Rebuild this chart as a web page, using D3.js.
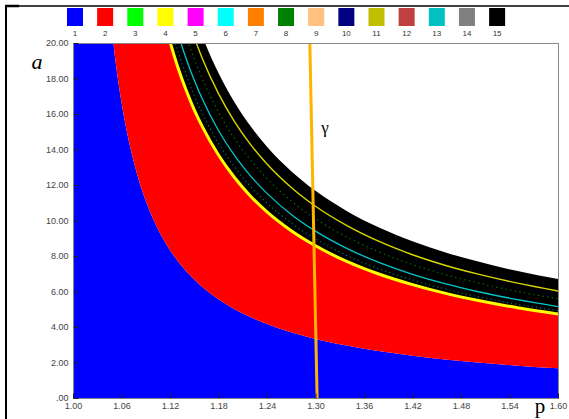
<!DOCTYPE html>
<html><head><meta charset="utf-8">
<script src="https://cdn.jsdelivr.net/npm/d3@7"></script>
<style>
html,body{margin:0;padding:0;background:#fff;}
svg{display:block;}
text{font-family:"Liberation Sans",Arial,sans-serif;}
</style></head>
<body>
<script>
// ---- data ----
const legendLabels = ["1","2","3","4","5","6","7","8","9","10","11","12","13","14","15"];
const legendColors = ["#0000ff","#ff0000","#00ff00","#ffff00","#ff00ff","#00ffff","#ff8000","#008000","#ffc080","#000080","#c0c000","#c04040","#00c0c0","#808080","#000000"];

const xTicks = [1.00,1.06,1.12,1.18,1.24,1.30,1.36,1.42,1.48,1.54,1.60];
const yTicks = [0,2,4,6,8,10,12,14,16,18,20];

const P        = [1.00,1.02,1.04,1.05,1.06,1.07,1.08,1.09,1.10,1.11,1.12,1.13,1.14,1.15,1.16,1.18,1.20,1.22,1.24,1.27,1.30,1.34,1.38,1.42,1.46,1.50,1.55,1.60];
const blueTop  = [100,50,25,20,16.67,14.29,12.5,11.11,10.0,9.09,8.33,7.69,7.14,6.67,6.25,5.56,5.0,4.55,4.17,3.70,3.33,2.94,2.63,2.38,2.17,2.0,1.82,1.67];
const redTop   = [200,116,58,46.85,39.2,33.7,29.6,26.4,23.85,21.76,20.02,18.54,17.28,16.18,15.23,13.63,12.35,11.30,10.43,9.37,8.52,7.61,6.90,6.33,5.85,5.45,5.03,4.68];
const tealDots = [200,122,61.3,49.4,41.3,35.5,31.2,27.8,25.1,22.9,21.1,19.5,18.2,17.04,16.04,14.35,13.0,11.9,10.98,9.86,8.96,8.0,7.25,6.65,6.15,5.72,5.28,4.92];
const cyanLine = [200,128,64.65,51.9,43.4,37.33,32.78,29.23,26.4,24.08,22.15,20.52,19.11,17.9,16.84,15.07,13.65,12.49,11.53,10.34,9.4,8.4,7.61,6.97,6.44,6.0,5.54,5.15];
const greenDots= [225,136,68.7,55.2,46.2,39.7,34.9,31.1,28.1,25.7,23.6,21.9,20.4,19.1,17.99,16.11,14.6,13.38,12.36,11.1,10.1,9.04,8.2,7.52,6.96,6.5,6.0,5.59];
const yellowLine=[250,144,72.7,58.4,48.9,42.1,37.0,33.0,29.85,27.25,25.09,23.25,21.69,20.32,19.13,17.15,15.56,14.26,13.18,11.86,10.80,9.68,8.79,8.07,7.48,6.99,6.47,6.03];
const blackTop = [250,151,76.3,61.4,51.5,44.4,39.0,34.9,31.6,28.9,26.6,24.7,23.05,21.63,20.38,18.31,16.65,15.29,14.16,12.78,11.67,10.50,9.58,8.83,8.21,7.70,7.15,6.70];

const gammaP = [1.293,1.302];
const gammaA = [20,0];

// ---- drawing ----
const W = 569, H = 419;
const svg = d3.select("body").append("svg").attr("width",W).attr("height",H);
const x = d3.scaleLinear().domain([1.0,1.6]).range([73,558]);
const y = d3.scaleLinear().domain([0,20]).range([398,43]);

svg.append("defs").append("clipPath").attr("id","clip")
  .append("rect").attr("x",73).attr("y",43).attr("width",485).attr("height",355);

const rows = P.map((p,i)=>({p, b:blueTop[i], r:redTop[i], t:tealDots[i], c:cyanLine[i], d:greenDots[i], yl:yellowLine[i], k:blackTop[i]}));
const g = svg.append("g").attr("clip-path","url(#clip)");
const curve = d3.curveMonotoneX;

g.append("path").datum(rows).attr("fill","#0000ff")
  .attr("d", d3.area().curve(curve).x(d=>x(d.p)).y0(y(0)).y1(d=>y(d.b)));
g.append("path").datum(rows).attr("fill","#ff0000")
  .attr("d", d3.area().curve(curve).x(d=>x(d.p)).y0(d=>y(d.b)).y1(d=>y(d.r)));
g.append("path").datum(rows).attr("fill","#000000")
  .attr("d", d3.area().curve(curve).x(d=>x(d.p)).y0(d=>y(d.r)).y1(d=>y(d.k)));

const line = key => d3.line().curve(curve).x(d=>x(d.p)).y(d=>y(d[key]));
g.append("path").datum(rows).attr("fill","none").attr("stroke","#ffff00").attr("stroke-width",3)
  .attr("transform","translate(0,-1)").attr("d", line("r"));
g.append("path").datum(rows).attr("fill","none").attr("stroke","#008c8c").attr("stroke-width",1.2)
  .attr("stroke-dasharray","1.2,3").attr("opacity",0.8).attr("d", line("t"));
g.append("path").datum(rows).attr("fill","none").attr("stroke","#00c8c8").attr("stroke-width",1.3).attr("d", line("c"));
g.append("path").datum(rows).attr("fill","none").attr("stroke","#00a000").attr("stroke-width",1.2)
  .attr("stroke-dasharray","1.2,3.5").attr("opacity",0.8).attr("d", line("d"));
g.append("path").datum(rows).attr("fill","none").attr("stroke","#d8d800").attr("stroke-width",1.4).attr("d", line("yl"));

// gamma line
g.append("path").datum(gammaP.map((p,i)=>({p,a:gammaA[i]}))).attr("fill","none")
  .attr("stroke","#ffb400").attr("stroke-width",3)
  .attr("d", d3.line().x(d=>x(d.p)).y(d=>y(d.a)));

// plot border
svg.append("rect").attr("x",73.5).attr("y",43.5).attr("width",485).attr("height",355)
  .attr("fill","none").attr("stroke","#888").attr("stroke-width",1);

// axes
const yAxis = d3.axisLeft(y).tickValues(yTicks).tickSize(-5).tickPadding(5)
  .tickFormat(v => v===0 ? ".00" : d3.format(".2f")(v));
const ya = svg.append("g").attr("transform","translate(73.5,0)").call(yAxis);
const xAxis = d3.axisBottom(x).tickValues(xTicks).tickSize(-5).tickPadding(4).tickFormat(d3.format(".2f"));
const xa = svg.append("g").attr("transform","translate(0,398.5)").call(xAxis);
[ya,xa].forEach(a=>{
  a.select(".domain").remove();
  a.selectAll(".tick line").attr("stroke","#222");
  a.selectAll("text").attr("fill","#444").style("font-size","9px").style("font-family","'Liberation Sans',Arial,sans-serif");
});

// legend
const lg = svg.append("g");
legendLabels.forEach((lab,i)=>{
  const cx = 75 + i*30.15;
  lg.append("rect").attr("x",cx-8).attr("y",8).attr("width",16).attr("height",18).attr("fill",legendColors[i]);
  lg.append("text").attr("x",cx).attr("y",36).attr("text-anchor","middle")
    .style("font-size","8px").attr("fill","#333").text(lab);
});

// labels
svg.append("text").attr("x",37).attr("y",69).attr("text-anchor","middle")
  .style("font-family","'Liberation Serif','Times New Roman',serif").style("font-style","italic").style("font-size","22px").text("a");
svg.append("text").attr("x",540).attr("y",413).attr("text-anchor","middle")
  .style("font-family","'Liberation Serif','Times New Roman',serif").style("font-size","21px").text("p");
svg.append("text").attr("x",325).attr("y",133).attr("text-anchor","middle")
  .style("font-family","'Liberation Serif','Times New Roman',serif").style("font-size","17px").text("γ");

// outer frame
svg.append("line").attr("x1",6).attr("x2",6).attr("y1",5).attr("y2",H).attr("stroke","#000").attr("stroke-width",2);
svg.append("line").attr("x1",5).attr("x2",W).attr("y1",6).attr("y2",6).attr("stroke","#000").attr("stroke-width",1.4);
svg.append("line").attr("x1",5).attr("x2",19).attr("y1",6).attr("y2",6).attr("stroke","#000").attr("stroke-width",2.5);
</script>
</body></html>
